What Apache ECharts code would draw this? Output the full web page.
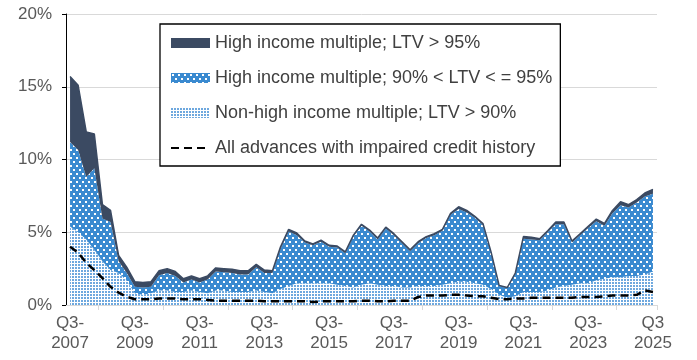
<!DOCTYPE html>
<html>
<head>
<meta charset="utf-8">
<script src="https://cdn.jsdelivr.net/npm/echarts@6/dist/echarts.min.js"></script>
<style>
html,body{margin:0;padding:0;background:#fff;}
#chart{width:697px;height:360px;}
</style>
</head>
<body>
<div id="chart"></div>
<script>
const categories = [
 '2007 Q3','2007 Q4',
 '2008 Q1','2008 Q2','2008 Q3','2008 Q4',
 '2009 Q1','2009 Q2','2009 Q3','2009 Q4',
 '2010 Q1','2010 Q2','2010 Q3','2010 Q4',
 '2011 Q1','2011 Q2','2011 Q3','2011 Q4',
 '2012 Q1','2012 Q2','2012 Q3','2012 Q4',
 '2013 Q1','2013 Q2','2013 Q3','2013 Q4',
 '2014 Q1','2014 Q2','2014 Q3','2014 Q4',
 '2015 Q1','2015 Q2','2015 Q3','2015 Q4',
 '2016 Q1','2016 Q2','2016 Q3','2016 Q4',
 '2017 Q1','2017 Q2','2017 Q3','2017 Q4',
 '2018 Q1','2018 Q2','2018 Q3','2018 Q4',
 '2019 Q1','2019 Q2','2019 Q3','2019 Q4',
 '2020 Q1','2020 Q2','2020 Q3','2020 Q4',
 '2021 Q1','2021 Q2','2021 Q3','2021 Q4',
 '2022 Q1','2022 Q2','2022 Q3','2022 Q4',
 '2023 Q1','2023 Q2','2023 Q3','2023 Q4',
 '2024 Q1','2024 Q2','2024 Q3','2024 Q4',
 '2025 Q1','2025 Q2','2025 Q3'
];

const tickLabels = ['Q3-\n2007','Q3-\n2009','Q3-\n2011','Q3-\n2013','Q3-\n2015',
                    'Q3-\n2017','Q3-\n2019','Q3-\n2021','Q3-\n2023','Q3\n2025'];

const yTicks = [0, 5, 10, 15, 20];

// Non-high income multiple; LTV > 90%
const nonHighLtv90 = [
 5.4,5.0,4.5,3.8,3.0,2.4,2.2,1.7,0.8,0.7,
 0.8,1.0,1.0,0.9,0.9,1.0,0.9,0.8,1.0,1.0,
 0.9,0.9,0.9,1.0,0.9,0.8,1.1,1.3,1.5,1.5,
 1.5,1.5,1.5,1.4,1.3,1.2,1.4,1.5,1.4,1.3,
 1.3,1.2,1.2,1.3,1.3,1.3,1.4,1.5,1.6,1.6,
 1.5,1.4,1.1,0.7,0.5,0.6,0.9,0.9,0.9,1.0,
 1.2,1.3,1.4,1.5,1.5,1.7,1.8,1.9,1.9,2.0,
 2.0,2.1,2.3
];

// High income multiple; 90% < LTV <= 95%
const highLtv90to95 = [
 5.8,5.65,4.3,5.6,2.95,3.3,0.8,0.5,0.45,0.5,
 0.45,1.05,1.2,1.1,0.65,0.75,0.65,0.95,1.3,1.25,
 1.3,1.2,1.2,1.6,1.3,1.4,2.75,3.75,3.3,2.8,
 2.6,2.85,2.5,2.55,2.25,3.5,4.05,3.55,3.1,3.95,
 3.5,3.05,2.5,2.95,3.3,3.5,3.7,4.7,5.0,4.75,
 4.5,4.1,2.5,0.6,0.65,1.55,3.65,3.6,3.55,4.0,
 4.35,4.25,2.9,3.3,3.8,4.05,3.65,4.4,4.95,4.7,
 5.05,5.35,5.35
];

// High income multiple; LTV > 95%
const highLtv95 = [
 4.5,4.45,3.1,2.35,0.95,0.8,0.4,0.4,0.35,0.35,
 0.35,0.3,0.3,0.3,0.25,0.25,0.25,0.25,0.25,0.25,
 0.25,0.25,0.25,0.2,0.2,0.15,0.15,0.15,0.15,0.1,
 0.1,0.1,0.1,0.1,0.1,0.1,0.1,0.1,0.1,0.1,
 0.1,0.1,0.1,0.1,0.1,0.1,0.1,0.1,0.15,0.15,
 0.1,0.1,0.05,0.05,0.05,0.05,0.15,0.15,0.1,0.1,
 0.15,0.15,0.1,0.1,0.1,0.15,0.15,0.2,0.25,0.2,
 0.2,0.25,0.3
];

// All advances with impaired credit history
const impairedCredit = [
 4.0,3.6,2.9,2.4,1.85,1.25,0.85,0.57,0.4,0.4,
 0.4,0.45,0.45,0.45,0.4,0.4,0.4,0.35,0.3,0.3,
 0.3,0.3,0.3,0.3,0.25,0.25,0.25,0.25,0.25,0.25,
 0.2,0.25,0.25,0.25,0.25,0.25,0.3,0.3,0.25,0.25,
 0.3,0.3,0.3,0.55,0.65,0.65,0.65,0.7,0.7,0.65,
 0.6,0.6,0.5,0.4,0.4,0.45,0.45,0.5,0.5,0.5,
 0.5,0.5,0.5,0.55,0.55,0.55,0.6,0.65,0.65,0.65,
 0.7,1.0,0.9
];

const names = [
 'High income multiple; LTV > 95%',
 'High income multiple; 90% < LTV < = 95%',
 'Non-high income multiple; LTV > 90%',
 'All advances with impaired credit history'
];

function makePattern(bg, fg, w, h, dots) {
  const c = document.createElement('canvas');
  c.width = w; c.height = h;
  const ctx = c.getContext('2d');
  ctx.fillStyle = bg; ctx.fillRect(0, 0, w, h);
  ctx.fillStyle = fg;
  dots.forEach(d => ctx.fillRect(d[0], d[1], d[2], d[3]));
  return { image: c, repeat: 'repeat' };
}

const darkColor = '#3b4a62';
const midPattern = makePattern('#3a8ad0', '#ffffff', 6, 8, [[1,1,2,2],[4,5,2,2]]);
const lightPattern = makePattern('#ffffff', '#6ea8de', 3, 3, [[0,0,2,2]]);

const chart = echarts.init(document.getElementById('chart'), null, {renderer: 'canvas'});

const axisText = { color: '#595959', fontSize: 17, fontFamily: 'Liberation Sans, Arial, sans-serif' };

chart.setOption({
  animation: false,
  backgroundColor: '#ffffff',
  grid: { left: 66, right: 40, top: 14, bottom: 55, containLabel: false },
  legend: {
    orient: 'vertical',
    left: 160, top: 24,
    padding: [10, 8, 9, 10],
    itemWidth: 39, itemHeight: 10, itemGap: 17,
    borderColor: '#000', borderWidth: 1.3,
    backgroundColor: '#ffffff',
    textStyle: { color: '#404040', fontSize: 18, fontFamily: 'Liberation Sans, Arial, sans-serif' },
    data: [
      { name: names[0], icon: 'rect', itemStyle: { color: darkColor, borderWidth: 0 } },
      { name: names[1], icon: 'rect', itemStyle: { color: midPattern, borderWidth: 0 } },
      { name: names[2], icon: 'rect', itemStyle: { color: lightPattern, borderWidth: 0 } },
      { name: names[3], itemStyle: { opacity: 0, borderWidth: 0 } }
    ]
  },
  xAxis: {
    type: 'category',
    data: categories,
    boundaryGap: true,
    axisLine: { lineStyle: { color: '#d9d9d9', width: 1 } },
    axisTick: { show: true, length: 5, lineStyle: { color: '#d9d9d9' },
                interval: (i) => i % 8 === 4 },
    axisLabel: Object.assign({}, axisText, {
      interval: (i) => i % 8 === 0,
      margin: 8, lineHeight: 20,
      formatter: (v, i) => (i % 8 === 0 ? tickLabels[i / 8] : '')
    }),
    splitLine: { show: false }
  },
  yAxis: {
    type: 'value',
    min: yTicks[0], max: yTicks[yTicks.length - 1], interval: 5,
    axisLine: { show: true, lineStyle: { color: '#000', width: 1 } },
    axisTick: { show: true, length: 4, lineStyle: { color: '#000' } },
    axisLabel: Object.assign({}, axisText, { margin: 14, formatter: '{value}%' }),
    splitLine: { show: true, lineStyle: { color: '#d9d9d9', width: 1 } }
  },
  series: [
    {
      name: names[2], type: 'line', stack: 'total', data: nonHighLtv90,
      symbol: 'none', lineStyle: { width: 0 }, itemStyle: { color: '#6ea8de' },
      areaStyle: { color: lightPattern, opacity: 1 }, z: 2
    },
    {
      name: names[1], type: 'line', stack: 'total', data: highLtv90to95,
      symbol: 'none', lineStyle: { width: 0 }, itemStyle: { color: '#3a8ad0' },
      areaStyle: { color: midPattern, opacity: 1 }, z: 2
    },
    {
      name: names[0], type: 'line', stack: 'total', data: highLtv95,
      symbol: 'none', lineStyle: { width: 1.5, color: darkColor }, itemStyle: { color: darkColor },
      areaStyle: { color: darkColor, opacity: 1 }, z: 3
    },
    {
      name: names[3], type: 'line', data: impairedCredit,
      symbol: 'none', itemStyle: { color: '#000' },
      lineStyle: { color: '#000', width: 2.5, type: [8, 5] }, z: 5
    }
  ]
});
</script>
</body>
</html>
